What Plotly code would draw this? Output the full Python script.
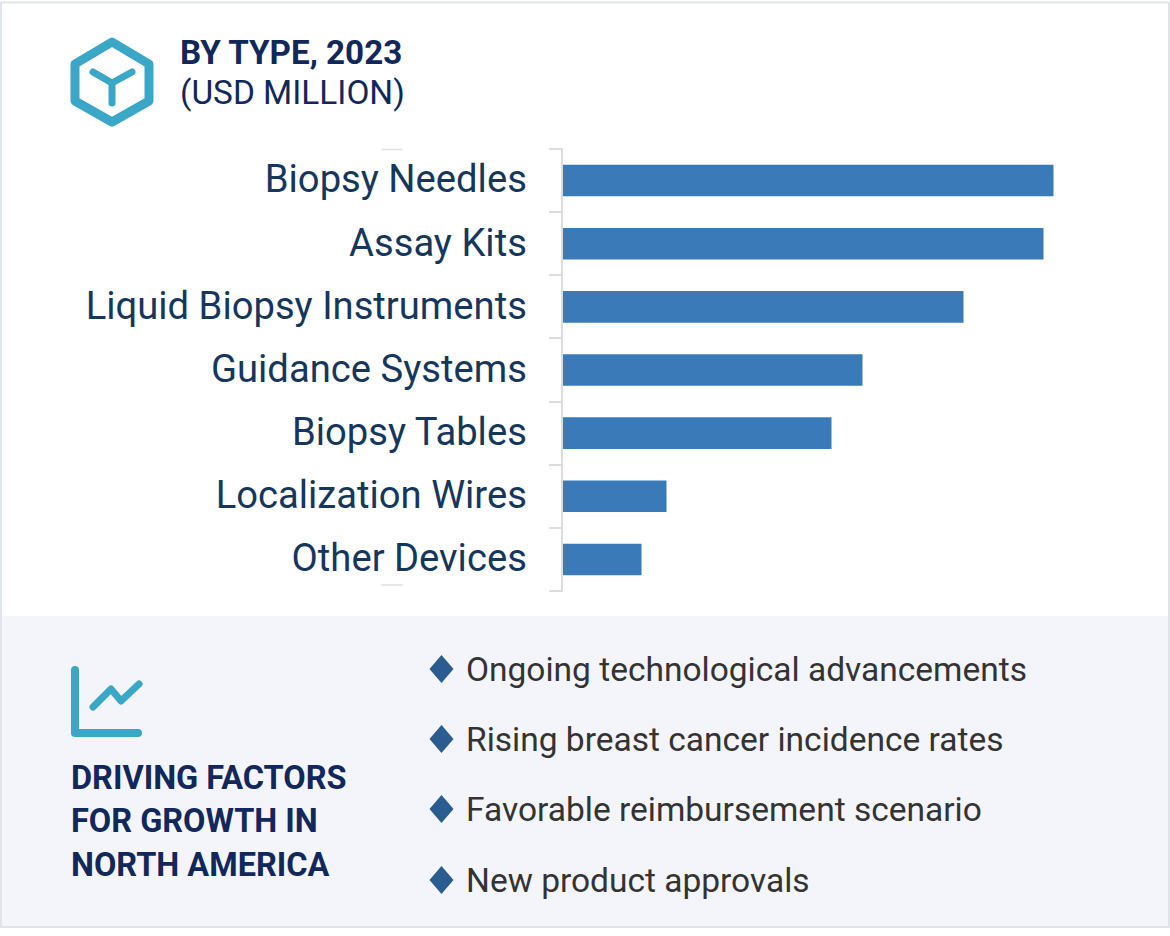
import plotly.graph_objects as go

W, H = 1170, 936
categories = ["Biopsy Needles", "Assay Kits", "Liquid Biopsy Instruments", "Guidance Systems",
              "Biopsy Tables", "Localization Wires", "Other Devices"]
values = [491, 481, 401, 300, 269, 104, 79]
drivers = ["Ongoing technological advancements", "Rising breast cancer incidence rates",
           "Favorable reimbursement scenario", "New product approvals"]
driver_y = [669, 739, 809, 880]
heading_lines = ["DRIVING FACTORS", "FOR GROWTH IN", "NORTH AMERICA"]
heading_y = [778, 821, 865]

TEAL = "#3BA7C6"
NAVY = "#12275A"
AXIS = "#DDDDDD"
FONT = "Roboto"

def X(p): return p / W
def Y(p): return 1 - p / H

def path(points, close=False):
    s = "M " + " L ".join(f"{X(a):.5f},{Y(b):.5f}" for a, b in points)
    return s + (" Z" if close else "")

shapes = []
def rect(x0, y0, x1, y1, fill, line=None, lw=0):
    shapes.append(dict(type="rect", xref="paper", yref="paper", x0=X(x0), x1=X(x1), y0=Y(y0), y1=Y(y1),
                       fillcolor=fill, line=dict(color=line or fill, width=lw), layer="below"))
def stroke(points, color, width, close=False):
    shapes.append(dict(type="path", xref="paper", yref="paper", path=path(points, close),
                       line=dict(color=color, width=width), layer="above"))

# frame and lower panel
rect(1, 2.5, 1169, 927, "white", "#E1E3EA", 2)
rect(2, 616, 1168, 926, "#F3F5FA")

# hexagon icon
stroke([(112, 42), (149, 64), (149, 101), (112, 122), (75, 101), (75, 64)], TEAL, 9, close=True)
stroke([(93, 72), (112, 83), (132, 72)], TEAL, 7)
stroke([(112, 83), (112, 103)], TEAL, 7)

# trend icon
stroke([(75, 670), (75, 733), (138, 733)], TEAL, 8)
stroke([(93, 707), (111, 689), (121, 701), (139, 684)], TEAL, 7)

# diamonds
for y in driver_y:
    shapes.append(dict(type="path", xref="paper", yref="paper", fillcolor="#2A5C8F", line=dict(width=0),
                       layer="above", path=path([(441.5, y - 14), (453.5, y), (441.5, y + 14), (429.5, y)], True)))

# short marks left of the labels, and the end ticks of the axis bracket
for y in [149.5, 585]:
    stroke([(382, y), (402, y)], AXIS, 1.5)
for y in [149, 591]:
    stroke([(550, y), (562, y)], AXIS, 2)

annotations = []
def text(x, y, s, size, color, bold=False):
    annotations.append(dict(xref="paper", yref="paper", x=X(x), y=Y(y), xanchor="left", yanchor="middle",
                            align="left", text=f"<b>{s}</b>" if bold else s, showarrow=False,
                            font=dict(family=FONT, size=size, color=color)))

text(178, 52, "BY TYPE, 2023", 33.2, NAVY, True)
text(178, 93, "(USD MILLION)", 33.4, NAVY)
for s, y in zip(heading_lines, heading_y):
    text(69, y, s, 32.5, NAVY, True)
for s, y in zip(drivers, driver_y):
    text(464, y, s, 33.5, "#333333")

fig = go.Figure(go.Bar(y=categories, x=values, orientation="h", marker=dict(color="#3A7AB8", line=dict(width=0)),
                       width=0.5))
fig.update_layout(
    width=W, height=H, margin=dict(l=0, r=0, t=0, b=0), autosize=False,
    paper_bgcolor="white", plot_bgcolor="rgba(0,0,0,0)", showlegend=False,
    shapes=shapes, annotations=annotations,
    xaxis=dict(domain=[X(562.5), X(1100.5)], range=[0, 538], visible=False, showgrid=False),
    yaxis=dict(domain=[Y(591), Y(149)], autorange="reversed", type="category", showgrid=False,
               showline=True, linecolor=AXIS, linewidth=2, ticks="outside", ticklen=12,
               tickcolor=AXIS, tickwidth=2, tickson="boundaries", ticklabelstandoff=26,
               tickfont=dict(family=FONT, size=38.2, color="#16365C"), zeroline=False),
)
post = """
document.body.style.margin='0';
document.documentElement.style.overflow='hidden';
document.querySelectorAll('.shapelayer path').forEach(function(p){p.style.strokeLinejoin='round';p.style.strokeLinecap='round';});
document.querySelectorAll('.ytick text').forEach(function(t){t.setAttribute('dy','-1.5');});
"""
fig.write_html("out.html", post_script=post, config=dict(displayModeBar=False))
